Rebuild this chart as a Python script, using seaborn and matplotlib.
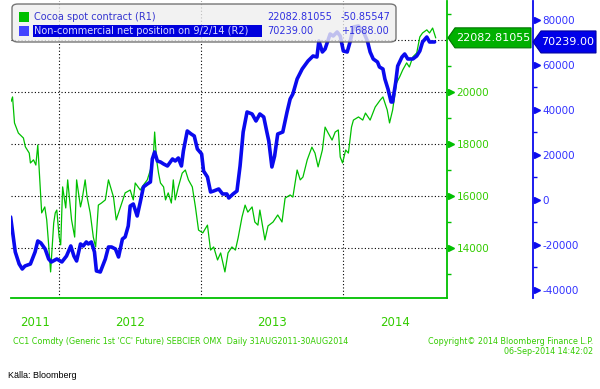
import numpy as np
import pandas as pd
import matplotlib
matplotlib.use('Agg')
import matplotlib.pyplot as plt
import matplotlib.dates as mdates
from matplotlib.patches import Polygon, FancyBboxPatch, Rectangle
from matplotlib.ticker import FixedLocator
from matplotlib.transforms import ScaledTranslation
import seaborn as sns

# Cocoa spot contract (R1)
cocoa_dates = [
    "2011-08-31", "2011-09-04", "2011-09-09", "2011-09-19", "2011-10-02", "2011-10-07", "2011-10-17", "2011-10-20", "2011-10-28", "2011-11-03",
    "2011-11-08", "2011-11-18", "2011-11-26", "2011-12-01", "2011-12-06", "2011-12-11", "2011-12-19", "2011-12-23", "2011-12-27", "2012-01-02",
    "2012-01-06", "2012-01-11", "2012-01-19", "2012-01-24", "2012-02-01", "2012-02-03", "2012-02-11", "2012-02-16", "2012-02-26", "2012-03-01",
    "2012-03-09", "2012-03-14", "2012-03-22", "2012-03-30", "2012-04-05", "2012-04-12", "2012-04-20", "2012-04-30", "2012-05-08", "2012-05-21",
    "2012-05-28", "2012-06-08", "2012-06-20", "2012-07-03", "2012-07-11", "2012-07-16", "2012-07-29", "2012-08-06", "2012-08-16", "2012-08-24",
    "2012-09-01", "2012-09-04", "2012-09-09", "2012-09-14", "2012-09-19", "2012-09-27", "2012-10-02", "2012-10-09", "2012-10-17", "2012-10-22",
    "2012-10-27", "2012-11-04", "2012-11-14", "2012-11-22", "2012-11-30", "2012-12-10", "2012-12-18", "2012-12-26", "2013-01-06", "2013-01-18",
    "2013-01-26", "2013-02-03", "2013-02-13", "2013-02-21", "2013-03-01", "2013-03-04", "2013-03-12", "2013-03-22", "2013-03-31", "2013-04-07",
    "2013-04-17", "2013-04-25", "2013-05-02", "2013-05-13", "2013-05-20", "2013-05-28", "2013-06-02", "2013-06-15", "2013-06-23", "2013-07-06",
    "2013-07-18", "2013-07-29", "2013-08-06", "2013-08-19", "2013-08-26", "2013-09-06", "2013-09-14", "2013-09-21", "2013-10-02", "2013-10-14",
    "2013-10-22", "2013-10-30", "2013-11-10", "2013-11-17", "2013-11-25", "2013-12-05", "2013-12-13", "2013-12-21", "2013-12-26", "2014-01-01",
    "2014-01-09", "2014-01-16", "2014-01-24", "2014-01-29", "2014-02-11", "2014-02-22", "2014-03-01", "2014-03-13", "2014-03-26", "2014-04-08",
    "2014-04-15", "2014-04-26", "2014-05-02", "2014-05-10", "2014-05-20", "2014-05-28", "2014-06-05", "2014-06-15", "2014-06-22", "2014-07-01",
    "2014-07-11", "2014-07-19", "2014-07-26", "2014-08-06", "2014-08-13", "2014-08-21", "2014-08-29"]
cocoa_values = [
    19630, 19810, 18810, 18420, 18230, 17890, 17650, 17270, 17390, 17190,
    17960, 15350, 15580, 15080, 14120, 13080, 14960, 15350, 15460, 14420,
    14120, 16350, 15540, 16620, 15390, 15080, 14420, 16620, 15580, 15850,
    16620, 15960, 15350, 14420, 14040, 15650, 15730, 15850, 16620, 15960,
    15080, 15580, 16120, 16230, 15850, 16500, 16230, 16420, 16620, 17000,
    17650, 18460, 17390, 16880, 16500, 16350, 15850, 16120, 15730, 16620,
    15850, 16350, 16880, 17000, 16620, 16350, 15580, 14690, 14580, 14880,
    13920, 14040, 13540, 13810, 13270, 13080, 13810, 14040, 13920, 14390,
    15190, 15650, 15380, 15580, 15000, 14880, 15460, 14310, 14850, 15000,
    15270, 15000, 15920, 16040, 15960, 17000, 16620, 16730, 17390, 17880,
    17650, 17120, 17770, 18650, 18420, 18150, 18460, 18540, 17500, 17270,
    17770, 17650, 18650, 18920, 19040, 18920, 19190, 18920, 19420, 19690,
    19810, 19310, 18810, 19310, 20350, 20580, 20850, 21120, 20960, 21350,
    21500, 22120, 22270, 22390, 22270, 22460, 22080]

# Non-commercial net position (R2)
cftc_dates = [
    "2011-08-30", "2011-09-11", "2011-09-21", "2011-09-29", "2011-10-06", "2011-10-20", "2011-11-01", "2011-11-08", "2011-11-16", "2011-11-27",
    "2011-12-06", "2011-12-13", "2011-12-27", "2012-01-09", "2012-01-21", "2012-02-01", "2012-02-09", "2012-02-16", "2012-02-26", "2012-03-04",
    "2012-03-12", "2012-03-17", "2012-03-25", "2012-04-02", "2012-04-07", "2012-04-17", "2012-04-30", "2012-05-08", "2012-05-16", "2012-05-26",
    "2012-06-03", "2012-06-13", "2012-06-20", "2012-06-28", "2012-07-03", "2012-07-11", "2012-07-21", "2012-07-29", "2012-08-06", "2012-08-16",
    "2012-08-24", "2012-08-29", "2012-09-04", "2012-09-11", "2012-09-19", "2012-09-27", "2012-10-07", "2012-10-20", "2012-10-27", "2012-11-04",
    "2012-11-12", "2012-11-17", "2012-11-27", "2012-12-07", "2012-12-15", "2012-12-23", "2013-01-03", "2013-01-08", "2013-01-18", "2013-01-26",
    "2013-02-03", "2013-02-16", "2013-02-26", "2013-03-09", "2013-03-14", "2013-03-25", "2013-04-04", "2013-04-12", "2013-04-20", "2013-04-30",
    "2013-05-13", "2013-05-23", "2013-06-02", "2013-06-12", "2013-06-20", "2013-06-25", "2013-07-03", "2013-07-10", "2013-07-18", "2013-07-31",
    "2013-08-11", "2013-08-19", "2013-08-26", "2013-09-06", "2013-09-19", "2013-10-04", "2013-10-17", "2013-10-27", "2013-11-01", "2013-11-10",
    "2013-11-17", "2013-11-30", "2013-12-08", "2013-12-18", "2013-12-26", "2014-01-03", "2014-01-13", "2014-01-21", "2014-01-29", "2014-02-11",
    "2014-02-24", "2014-03-06", "2014-03-13", "2014-03-21", "2014-04-01", "2014-04-06", "2014-04-15", "2014-04-20", "2014-04-28", "2014-05-06",
    "2014-05-10", "2014-05-18", "2014-05-23", "2014-06-03", "2014-06-10", "2014-06-18", "2014-07-01", "2014-07-11", "2014-07-19", "2014-07-26",
    "2014-08-06", "2014-08-13", "2014-08-26"]
cftc_values = [
    -7560, -23110, -28440, -30670, -29330, -28440, -23110, -18220, -19110, -21780,
    -26220, -27550, -26220, -27550, -24890, -20440, -24890, -27110, -19550, -20440,
    -18660, -19550, -18660, -23110, -31550, -32000, -26220, -20890, -20890, -21780,
    -25330, -17330, -16440, -11550, -2670, -1780, -7110, -890, 5780, 7110,
    8000, 18220, 21330, 17330, 16890, 16000, 15110, 18220, 17330, 18670,
    15110, 21780, 30670, 29330, 28440, 22670, 20440, 12890, 10220, 3560,
    4000, 4890, 2670, 2670, 890, 2670, 4000, 15110, 30220, 39110,
    38220, 35110, 38220, 36890, 30220, 26220, 14670, 19550, 29330, 30220,
    39110, 44890, 47110, 53780, 58220, 61780, 64000, 63550, 70670, 65780,
    67110, 73780, 72890, 74670, 72890, 66220, 65780, 70670, 76890, 77330,
    74670, 70670, 65780, 62670, 61330, 59110, 58220, 53780, 49330, 43560,
    43560, 52440, 59550, 63550, 64890, 62670, 62670, 64000, 66220, 70220,
    72440, 70220, 70239]

green_ticks = [14000, 16000, 18000, 20000, 22000]
green_tick_labels = ["14000", "16000", "18000", "20000", ""]  # 22000 sits under the last-value tag
green_minor = [13000, 15000, 17000, 19000, 21000, 23000]
blue_ticks = [-40000, -20000, 0, 20000, 40000, 60000, 80000]
blue_minor = [-30000, -10000, 10000, 30000, 50000, 70000]
year_labels = ["2011", "2012", "2013", "2014"]

legend_names = ["Cocoa spot contract (R1)", "Non-commercial net position on 9/2/14 (R2)"]
legend_last = ["22082.81055", "70239.00"]
legend_change = ["-50.85547", "+1688.00"]
last_cocoa = 22082.81055
last_cftc = 70239.00

GREEN = '#00C000'
GREEN_TXT = '#33CC00'
BLUE = '#0A0AEE'
BLUE_TXT = '#3333FF'

sns.set_style('white')
plt.rcParams['font.family'] = ['DejaVu Sans']
plt.rcParams['axes.unicode_minus'] = False

W, H = 600, 389
fig = plt.figure(figsize=(W / 100, H / 100), dpi=100)
fig.patch.set_facecolor('white')


def fx(x):
    return x / W


def fy(y):
    return 1 - y / H


ax_l, ax_r, ax_t, ax_b = 11, 447, 1, 298
ax = fig.add_axes([fx(ax_l), fy(ax_b), (ax_r - ax_l) / W, (ax_b - ax_t) / H])
ax2 = ax.twinx()

cocoa = pd.DataFrame({'date': pd.to_datetime(cocoa_dates), 'value': cocoa_values})
cftc = pd.DataFrame({'date': pd.to_datetime(cftc_dates), 'value': cftc_values})

sns.lineplot(data=cocoa, x='date', y='value', ax=ax, color=GREEN, linewidth=0.9)
sns.lineplot(data=cftc, x='date', y='value', ax=ax2, color=BLUE, linewidth=2.6)

for a in (ax, ax2):
    a.set_xlabel('')
    a.set_ylabel('')
    a.set_facecolor('none')

ax.set_xlim(pd.Timestamp('2011-08-31'), pd.Timestamp('2014-09-27'))

# spines
for s in ['left', 'top']:
    ax.spines[s].set_visible(False)
ax.spines['right'].set_color(GREEN)
ax.spines['right'].set_linewidth(1.3)
ax.spines['bottom'].set_color(GREEN)
ax.spines['bottom'].set_linewidth(1.3)
for s in ['left', 'top', 'bottom']:
    ax2.spines[s].set_visible(False)
blue_pos = (533 - ax_l) / (ax_r - ax_l)
ax2.spines['right'].set_position(('axes', blue_pos))
ax2.spines['right'].set_color(BLUE)
ax2.spines['right'].set_linewidth(1.3)

# green (R1) axis
ax.yaxis.tick_right()
ax.set_yticks(green_ticks)
ax.set_yticklabels(green_tick_labels)
ax.yaxis.set_minor_locator(FixedLocator(green_minor))
ax.tick_params(axis='y', which='major', length=0, pad=7, labelcolor=GREEN_TXT, labelsize=7.5)
ax.tick_params(axis='y', which='minor', length=3, width=1, color=GREEN, direction='out')

# blue (R2) axis
ax2.set_yticks(blue_ticks)
ax2.yaxis.set_minor_locator(FixedLocator(blue_minor))
ax2.tick_params(axis='y', which='major', length=0, pad=6.5, labelcolor=BLUE_TXT, labelsize=7.5)
ax2.tick_params(axis='y', which='minor', length=3, width=1, color=BLUE, direction='out')

# x axis: years + quarters
ax.xaxis.set_major_locator(mdates.YearLocator())
ax.xaxis.set_minor_locator(mdates.MonthLocator(bymonth=[1, 4, 7, 10]))
ax.tick_params(axis='x', which='major', length=24.5, width=0.8, color='#7FDF7F', labelbottom=False)
ax.tick_params(axis='x', which='minor', length=2.5, width=1, color=GREEN)

ax.grid(True, which='major', axis='both', color='black', linestyle=(0, (1, 2)), linewidth=0.8)
ax.set_axisbelow(True)

# triangle markers on the value axes
off = ScaledTranslation(4 / 100, 0, fig.dpi_scale_trans)
ax.plot([1] * 4, green_ticks[:4], ls='none', marker='>', ms=5, color=GREEN,
        transform=ax.get_yaxis_transform() + off, clip_on=False)
ax2.plot([blue_pos] * len(blue_ticks), blue_ticks, ls='none', marker='>', ms=5, color=BLUE,
         transform=ax2.get_yaxis_transform() + off, clip_on=False)
ax.set_ylim(12077, 23500)
ax2.set_ylim(-43560, 88440)

# year labels centred in the visible part of each year
x0, x1 = ax.get_xlim()
for lab in year_labels:
    a = max(mdates.date2num(pd.Timestamp(f'{lab}-01-01')), x0)
    b = min(mdates.date2num(pd.Timestamp(f'{int(lab) + 1}-01-01')), x1)
    ax.text((a + b) / 2, -(323 - ax_b) / (ax_b - ax_t), lab, transform=ax.get_xaxis_transform(),
            ha='center', va='center', color=GREEN_TXT, fontsize=8.5)

# legend box
fig.add_artist(FancyBboxPatch((fx(12), fy(42)), (396 - 12) / W, (42 - 4) / H,
                              boxstyle='round,pad=0,rounding_size=0.01', transform=fig.transFigure,
                              fc='#EFEFEF', ec='#555555', lw=1, alpha=0.8, zorder=5))
fig.add_artist(Rectangle((fx(19), fy(22)), 10 / W, 10 / H, transform=fig.transFigure,
                         fc=GREEN, ec='none', zorder=6))
fig.add_artist(Rectangle((fx(19), fy(36)), 10 / W, 10 / H, transform=fig.transFigure,
                         fc='#4444FF', ec='none', zorder=6))
fig.add_artist(Rectangle((fx(33), fy(37)), (262 - 33) / W, 12 / H, transform=fig.transFigure,
                         fc='#0000DD', ec='none', zorder=6))
rows_y = [17, 31]
name_cols = ['#3535D0', '#D8D8FF']
for i in range(2):
    fig.text(fx(34), fy(rows_y[i]), legend_names[i], color=name_cols[i], fontsize=7, va='center', zorder=7)
    fig.text(fx(267), fy(rows_y[i]), legend_last[i], color='#3030E0', fontsize=7, va='center', zorder=7)
    fig.text(fx(341), fy(rows_y[i]), legend_change[i], color='#3030E0', fontsize=7, va='center', zorder=7)

# last value tags
yc = H - ax.transData.transform((x0, last_cocoa))[1]
pts = [(448, yc), (455, yc - 10), (531, yc - 10), (531, yc + 10), (455, yc + 10)]
fig.add_artist(Polygon([(fx(px), fy(py)) for px, py in pts], closed=True, transform=fig.transFigure,
                       fc='#00B000', ec='#007700', lw=0.8, zorder=5))
fig.text(fx(493), fy(yc), legend_last[0], color='white', fontsize=8, ha='center', va='center', zorder=7)

yc2 = H - ax2.transData.transform((x0, last_cftc))[1]
pts = [(533, yc2), (541, yc2 - 11), (596, yc2 - 11), (596, yc2 + 11), (541, yc2 + 11)]
fig.add_artist(Polygon([(fx(px), fy(py)) for px, py in pts], closed=True, transform=fig.transFigure,
                       fc='#0000E8', ec='#0000A0', lw=0.8, zorder=5))
fig.text(fx(568), fy(yc2), legend_last[1], color='white', fontsize=8, ha='center', va='center', zorder=7)

# footer
fig.text(fx(13), fy(341), "CC1 Comdty (Generic 1st 'CC' Future) SEBCIER OMX  Daily 31AUG2011-30AUG2014",
         color=GREEN_TXT, fontsize=5.8, va='center')
fig.text(fx(593), fy(341), "Copyright\u00a9 2014 Bloomberg Finance L.P.", color=GREEN_TXT, fontsize=5.8,
         ha='right', va='center')
fig.text(fx(593), fy(352), "06-Sep-2014 14:42:02", color=GREEN_TXT, fontsize=5.8, ha='right', va='center')
fig.text(fx(8), fy(376), "Källa: Bloomberg", color='black', fontsize=6.5, va='center',
         family=['Liberation Sans', 'DejaVu Sans'])

fig.savefig('out.png', dpi=100, facecolor='white')
plt.close(fig)
